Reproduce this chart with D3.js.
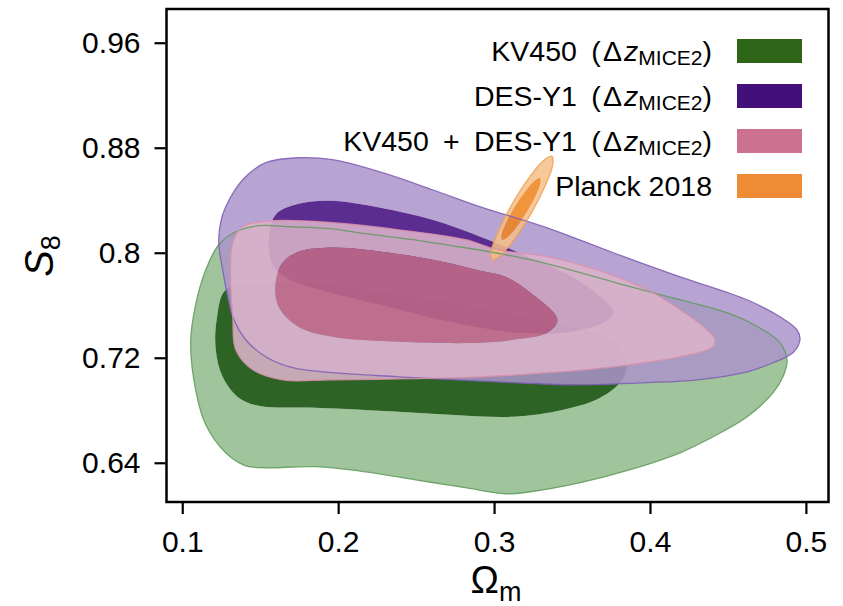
<!DOCTYPE html>
<html>
<head>
<meta charset="utf-8">
<script src="https://cdn.jsdelivr.net/npm/d3@7"></script>
<style>
    body { margin: 0; background: #fff; }
    svg { display: block; font-family: "Liberation Sans", Arial, sans-serif; }
</style>
</head>
<body>
<svg width="843" height="606"></svg>
<script>
// ---- Contours, [Omega_m, S8]
const kvOuter = [
    [0.1054, 0.7314], [0.1086, 0.7604], [0.1151, 0.7870], [0.1234, 0.8061], [0.1343, 0.8160],
    [0.1490, 0.8206], [0.1695, 0.8198], [0.1951, 0.8183], [0.2176, 0.8145], [0.2528, 0.8091],
    [0.2816, 0.8038], [0.3072, 0.7985], [0.3233, 0.7947], [0.3553, 0.7848], [0.3873, 0.7741],
    [0.4193, 0.7642], [0.4514, 0.7535], [0.4725, 0.7413], [0.4834, 0.7314], [0.4879, 0.7185],
    [0.4853, 0.7055], [0.4789, 0.6933], [0.4623, 0.6750], [0.4405, 0.6598], [0.4193, 0.6476],
    [0.3873, 0.6347], [0.3553, 0.6248], [0.3233, 0.6179], [0.3072, 0.6164], [0.2816, 0.6210],
    [0.2496, 0.6270], [0.2176, 0.6331], [0.1855, 0.6370], [0.1535, 0.6362], [0.1407, 0.6377],
    [0.1279, 0.6476], [0.1151, 0.6690], [0.1086, 0.6956]
];
const kvInner = [
    [0.1279, 0.7718], [0.1503, 0.7771], [0.1887, 0.7756], [0.2400, 0.7680], [0.2912, 0.7581],
    [0.3425, 0.7451], [0.3745, 0.7337], [0.3854, 0.7185], [0.3822, 0.7032], [0.3681, 0.6895],
    [0.3444, 0.6804], [0.3124, 0.6750], [0.2720, 0.6766], [0.2387, 0.6789], [0.1855, 0.6819],
    [0.1490, 0.6834], [0.1362, 0.6895], [0.1259, 0.7055], [0.1215, 0.7261], [0.1221, 0.7490]
];
const desOuter = [
    [0.1279, 0.8350], [0.1388, 0.8556], [0.1535, 0.8686], [0.1746, 0.8724], [0.1964, 0.8709],
    [0.2284, 0.8610], [0.2605, 0.8480], [0.2912, 0.8350], [0.3341, 0.8190], [0.3764, 0.8000],
    [0.4193, 0.7817], [0.4622, 0.7642], [0.4834, 0.7512], [0.4943, 0.7413], [0.4962, 0.7337],
    [0.4917, 0.7238], [0.4789, 0.7162], [0.4623, 0.7093], [0.4303, 0.7032], [0.3982, 0.7010],
    [0.3553, 0.6994], [0.3124, 0.7010], [0.2387, 0.7055], [0.1964, 0.7086], [0.1708, 0.7124],
    [0.1535, 0.7208], [0.1407, 0.7337], [0.1324, 0.7512], [0.1292, 0.7665], [0.1259, 0.7870],
    [0.1234, 0.8076], [0.1247, 0.8236]
];
const desInner = [
    [0.1599, 0.8290], [0.1746, 0.8373], [0.1951, 0.8396], [0.2271, 0.8343], [0.2605, 0.8251],
    [0.2912, 0.8122], [0.3233, 0.7962], [0.3553, 0.7779], [0.3764, 0.7550], [0.3713, 0.7474],
    [0.3489, 0.7398], [0.3168, 0.7390], [0.2720, 0.7474], [0.2272, 0.7604], [0.1887, 0.7718],
    [0.1663, 0.7810], [0.1580, 0.7909], [0.1554, 0.8099]
];
const combOuter = [
    [0.1388, 0.8198], [0.1580, 0.8244], [0.1964, 0.8229], [0.2387, 0.8175], [0.2816, 0.8099],
    [0.3021, 0.8023], [0.3341, 0.7970], [0.3662, 0.7870], [0.3982, 0.7718], [0.4193, 0.7566],
    [0.4366, 0.7413], [0.4417, 0.7337], [0.4405, 0.7284], [0.4193, 0.7208], [0.3764, 0.7131],
    [0.3341, 0.7086], [0.2912, 0.7055], [0.1964, 0.7032], [0.1644, 0.7032], [0.1452, 0.7109],
    [0.1343, 0.7261], [0.1324, 0.7512], [0.1311, 0.7771], [0.1324, 0.8076]
];
const combInner = [
    [0.1644, 0.7924], [0.1746, 0.8008], [0.1919, 0.8038], [0.2176, 0.8023], [0.2605, 0.7947],
    [0.2912, 0.7863], [0.3072, 0.7817], [0.3233, 0.7695], [0.3406, 0.7490], [0.3341, 0.7390],
    [0.3124, 0.7337], [0.2912, 0.7314], [0.2387, 0.7322], [0.1964, 0.7360], [0.1746, 0.7436],
    [0.1618, 0.7589], [0.1599, 0.7771]
];
const planckOuter = [
    [0.3372, 0.8734], [0.3375, 0.8661], [0.3325, 0.8502], [0.3238, 0.8300], [0.3134, 0.8109],
    [0.3042, 0.7980], [0.2987, 0.7947], [0.2984, 0.8021], [0.3033, 0.8179], [0.3121, 0.8381],
    [0.3225, 0.8572], [0.3316, 0.8701]
];
const planckInner = [
    [0.3296, 0.8571], [0.3297, 0.8526], [0.3265, 0.8430], [0.3209, 0.8309], [0.3143, 0.8195],
    [0.3085, 0.8118], [0.3051, 0.8099], [0.3050, 0.8144], [0.3082, 0.8240], [0.3138, 0.8361],
    [0.3204, 0.8475], [0.3262, 0.8552]
];

// ---- Axes
const xTicks = [0.1, 0.2, 0.3, 0.4, 0.5];
const yTicks = [0.64, 0.72, 0.8, 0.88, 0.96];
const yTickLabels = ['0.64', '0.72', '0.8', '0.88', '0.96'];

// ---- Legend
const legendNames = ['KV450', 'DES-Y1', 'KV450 + DES-Y1', 'Planck 2018'];
const legendMice = [true, true, true, false];
const legendColors = ['#2d6418', '#430f7a', '#cd7191', '#ef8a35'];

const series = [
    { outer: kvOuter, inner: kvInner, fillOut: '#8fba8b', fillIn: '#084900', line: '#5f9a5a', alpha: 0.85 },
    { outer: desOuter, inner: desInner, fillOut: '#ab94ca', fillIn: '#3f087e', line: '#7d5cb4', alpha: 0.85 },
    { outer: combOuter, inner: combInner, fillOut: '#dbb3ca', fillIn: '#c36b89', line: '#dc8fac', alpha: 0.88 },
    { outer: planckOuter, inner: planckInner, fillOut: '#f4be88', fillIn: '#ed831a', line: '#f0a050', alpha: 0.85 }
];

const svg = d3.select('svg');
const box = { left: 166.5, right: 828.5, top: 9, bottom: 502 };

const x = d3.scaleLinear().domain([0.0899, 0.5145]).range([box.left, box.right]);
const y = d3.scaleLinear().domain([0.6101, 0.9857]).range([box.bottom, box.top]);

const line = d3.line()
    .x(d => x(d[0]))
    .y(d => y(d[1]))
    .curve(d3.curveCatmullRomClosed.alpha(0.5));

// ---- Contours (outer band is a ring, so the inner region is painted once)
const plot = svg.append('g');

series.forEach(s => {
    plot.append('path')
        .attr('d', line(s.outer) + line(s.inner))
        .attr('fill', s.fillOut)
        .attr('fill-rule', 'evenodd')
        .attr('fill-opacity', s.alpha);

    plot.append('path')
        .attr('d', line(s.inner))
        .attr('fill', s.fillIn)
        .attr('fill-opacity', s.alpha);
});

// outlines sit on top of every fill
series.forEach(s => {
    plot.append('path')
        .attr('d', line(s.outer))
        .attr('fill', 'none')
        .attr('stroke', s.line)
        .attr('stroke-opacity', 0.85)
        .attr('stroke-width', 1.3);
});

// ---- Frame
svg.append('rect')
    .attr('x', box.left)
    .attr('y', box.top)
    .attr('width', box.right - box.left)
    .attr('height', box.bottom - box.top)
    .attr('fill', 'none')
    .attr('stroke', 'black')
    .attr('stroke-width', 2.5);

const yAxis = svg.append('g')
    .attr('transform', `translate(${box.left - 1},0)`)
    .call(d3.axisLeft(y).tickValues(yTicks).tickFormat((d, i) => yTickLabels[i]).tickSize(11).tickPadding(14));

const xAxis = svg.append('g')
    .attr('transform', `translate(0,${box.bottom + 1})`)
    .call(d3.axisBottom(x).tickValues(xTicks).tickFormat(d3.format('.1f')).tickSize(11).tickPadding(17));

[xAxis, yAxis].forEach(a => {
    a.select('.domain').remove();
    a.selectAll('line').attr('stroke', 'black').attr('stroke-width', 2.2);
    a.selectAll('text').attr('font-size', 30).attr('fill', 'black').style('font-family', '"Liberation Sans", Arial, sans-serif');
});

// ---- Axis labels
const xLabel = svg.append('text')
    .attr('x', 496)
    .attr('y', 593)
    .attr('text-anchor', 'middle');
xLabel.append('tspan').attr('font-size', 38).text('Ω');
xLabel.append('tspan').attr('font-size', 27).attr('dy', 8).text('m');

const yLabel = svg.append('text')
    .attr('transform', 'translate(53,256) rotate(-90)')
    .attr('text-anchor', 'middle');
yLabel.append('tspan').attr('font-size', 40).attr('font-style', 'italic').text('S');
yLabel.append('tspan').attr('font-size', 27).attr('dy', 7).text('8');

// ---- Legend
const legend = svg.append('g');

legendNames.forEach((name, i) => {
    const cy = 51 + i * 45;

    legend.append('rect')
        .attr('x', 737)
        .attr('y', cy - 12)
        .attr('width', 65)
        .attr('height', 24)
        .attr('fill', legendColors[i]);

    const t = legend.append('text')
        .attr('x', 712)
        .attr('y', cy + 9.5)
        .attr('text-anchor', 'end')
        .attr('font-size', 28.5);

    if (legendMice[i]) {
        t.append('tspan').text(name.replace(' + ', '\u2002+\u2002') + '\u2002(\u200aΔ');
        t.append('tspan').attr('font-style', 'italic').attr('dx', 2).text('z');
        t.append('tspan').attr('font-size', 21).attr('dy', 4).text('MICE2');
        t.append('tspan').attr('dy', -4).text(')');
    } else {
        t.text(name);
    }
});
</script>
</body>
</html>
